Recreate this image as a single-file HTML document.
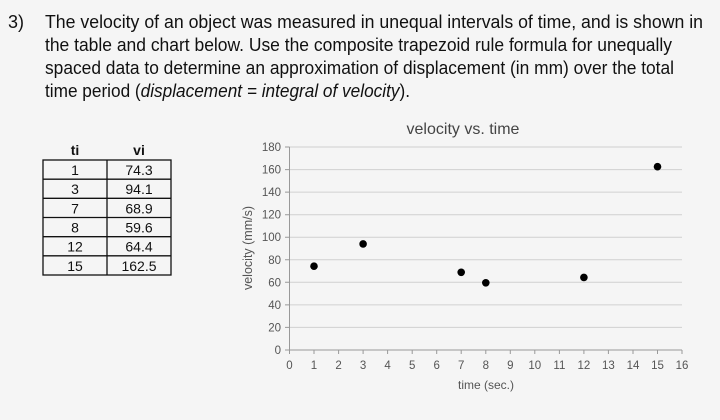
<!DOCTYPE html>
<html><head><style>body{margin:0;background:#f5f5f5}svg{display:block}</style></head><body>
<svg width="720" height="420" xmlns="http://www.w3.org/2000/svg" font-family="Liberation Sans, sans-serif">
<rect width="720" height="420" fill="#f5f5f5"/>
<g font-size="18" fill="#111">
<text x="8" y="28">3)</text>
<text x="45" y="28" textLength="658" lengthAdjust="spacingAndGlyphs">The velocity of an object was measured in unequal intervals of time, and is shown in</text>
<text x="45" y="51" textLength="627" lengthAdjust="spacingAndGlyphs">the table and chart below.  Use the composite trapezoid rule formula for unequally</text>
<text x="45" y="74" textLength="629" lengthAdjust="spacingAndGlyphs">spaced data to determine an approximation of displacement (in mm) over the total</text>
<text x="45" y="97" textLength="365" lengthAdjust="spacingAndGlyphs">time period (<tspan font-style="italic">displacement = integral of velocity</tspan>).</text>
</g>
<g font-size="14" fill="#111" text-anchor="middle">
<text x="75" y="155" font-weight="bold">ti</text>
<text x="139" y="155" font-weight="bold">vi</text>
<g fill="none" stroke="#111" stroke-width="1.3">
<rect x="43" y="160" width="128" height="115"/>
<line x1="107" y1="160" x2="107" y2="275"/>
<line x1="43" y1="179.2" x2="171" y2="179.2"/>
<line x1="43" y1="198.3" x2="171" y2="198.3"/>
<line x1="43" y1="217.5" x2="171" y2="217.5"/>
<line x1="43" y1="236.7" x2="171" y2="236.7"/>
<line x1="43" y1="255.8" x2="171" y2="255.8"/>
</g>
<text x="75" y="175">1</text><text x="139" y="175">74.3</text>
<text x="75" y="194.2">3</text><text x="139" y="194.2">94.1</text>
<text x="75" y="213.3">7</text><text x="139" y="213.3">68.9</text>
<text x="75" y="232.5">8</text><text x="139" y="232.5">59.6</text>
<text x="75" y="251.7">12</text><text x="139" y="251.7">64.4</text>
<text x="75" y="270.9">15</text><text x="139" y="270.9">162.5</text>
</g>
<text x="463" y="134" font-size="16" fill="#444" text-anchor="middle">velocity vs. time</text>
<g stroke="#d0d0d0" stroke-width="1">
<line x1="289.5" y1="147" x2="682" y2="147"/>
<line x1="289.5" y1="169.6" x2="682" y2="169.6"/>
<line x1="289.5" y1="192.1" x2="682" y2="192.1"/>
<line x1="289.5" y1="214.7" x2="682" y2="214.7"/>
<line x1="289.5" y1="237.2" x2="682" y2="237.2"/>
<line x1="289.5" y1="259.8" x2="682" y2="259.8"/>
<line x1="289.5" y1="282.3" x2="682" y2="282.3"/>
<line x1="289.5" y1="304.9" x2="682" y2="304.9"/>
<line x1="289.5" y1="327.4" x2="682" y2="327.4"/>
</g>
<g stroke="#999" stroke-width="1">
<line x1="289.5" y1="147" x2="289.5" y2="350"/>
<line x1="289.5" y1="350" x2="682" y2="350"/>
<path d="M285 147h4.5M285 169.6h4.5M285 192.1h4.5M285 214.7h4.5M285 237.2h4.5M285 259.8h4.5M285 282.3h4.5M285 304.9h4.5M285 327.4h4.5M285 350h4.5"/>
<path d="M289.5 350v4M314 350v4M338.6 350v4M363.1 350v4M387.6 350v4M412.2 350v4M436.7 350v4M461.2 350v4M485.8 350v4M510.3 350v4M534.8 350v4M559.4 350v4M583.9 350v4M608.4 350v4M633 350v4M657.5 350v4M682 350v4"/>
</g>
<g font-size="11.5" fill="#555" text-anchor="end">
<text x="281" y="151">180</text><text x="281" y="173.6">160</text><text x="281" y="196.1">140</text>
<text x="281" y="218.7">120</text><text x="281" y="241.2">100</text><text x="281" y="263.8">80</text>
<text x="281" y="286.3">60</text><text x="281" y="308.9">40</text><text x="281" y="331.4">20</text><text x="281" y="354">0</text>
</g>
<g font-size="11.5" fill="#555" text-anchor="middle">
<text x="289.5" y="369">0</text><text x="314" y="369">1</text><text x="338.6" y="369">2</text><text x="363.1" y="369">3</text>
<text x="387.6" y="369">4</text><text x="412.2" y="369">5</text><text x="436.7" y="369">6</text><text x="461.2" y="369">7</text>
<text x="485.8" y="369">8</text><text x="510.3" y="369">9</text><text x="534.8" y="369">10</text><text x="559.4" y="369">11</text>
<text x="583.9" y="369">12</text><text x="608.4" y="369">13</text><text x="633" y="369">14</text><text x="657.5" y="369">15</text><text x="682" y="369">16</text>
<text x="486" y="389" font-size="12">time (sec.)</text>
<text transform="translate(252,248) rotate(-90)" font-size="12.5">velocity (mm/s)</text>
</g>
<g fill="#000">
<circle cx="314" cy="266.2" r="3.8"/><circle cx="363.1" cy="243.9" r="3.8"/>
<circle cx="461.2" cy="272.3" r="3.8"/><circle cx="485.8" cy="282.8" r="3.8"/>
<circle cx="583.9" cy="277.4" r="3.8"/><circle cx="657.5" cy="166.7" r="3.8"/>
</g>
</svg>
</body></html>
